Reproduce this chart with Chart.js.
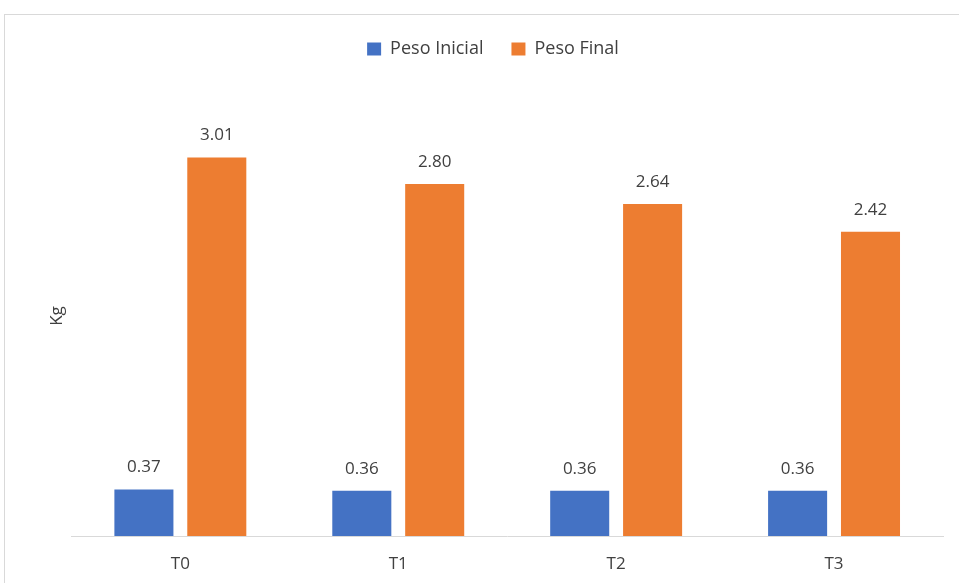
<!DOCTYPE html>
<html>
<head>
<meta charset="utf-8">
<script src="https://cdn.jsdelivr.net/npm/chart.js@4/dist/chart.umd.min.js"></script>
<style>
html,body{margin:0;padding:0;background:#fff;overflow:hidden;}
#frame{position:absolute;left:4px;top:14px;width:1100px;height:800px;border-left:1px solid #d9d9d9;border-top:1px solid #d9d9d9;}
#wrap{position:absolute;left:0;top:0;width:959px;height:583px;}
</style>
</head>
<body>
<div id="frame"></div>
<div id="wrap"><canvas id="c" width="959" height="583"></canvas></div>
<script>
const categories = ["T0", "T1", "T2", "T3"];
const pesoInicial = [0.37, 0.36, 0.36, 0.36];
const pesoFinal = [3.01, 2.80, 2.64, 2.42];
const seriesNames = ["Peso Inicial", "Peso Final"];
const yTitle = "Kg";

const FONT = "'Open Sans', 'Noto Sans', sans-serif";
const TXT = "#404040";

const legendHeight = {
  id: 'legendHeight',
  beforeInit(chart) {
    const orig = chart.legend.fit;
    chart.legend.fit = function () {
      orig.bind(chart.legend)();
      this.height = 84;
    };
  }
};

const valueLabels = {
  id: 'valueLabels',
  afterDatasetsDraw(chart) {
    const ctx = chart.ctx;
    ctx.save();
    ctx.font = "17px " + FONT;
    ctx.fillStyle = TXT;
    ctx.textAlign = 'center';
    ctx.textBaseline = 'middle';
    chart.data.datasets.forEach((ds, i) => {
      const meta = chart.getDatasetMeta(i);
      meta.data.forEach((bar, j) => {
        ctx.fillText(ds.data[j].toFixed(2), bar.x, bar.y - 22);
      });
    });
    ctx.restore();
  }
};

new Chart(document.getElementById('c'), {
  type: 'bar',
  data: {
    labels: categories,
    datasets: [
      { label: seriesNames[0], data: pesoInicial, backgroundColor: '#4472C4', categoryPercentage: 0.669, barPercentage: 0.81 },
      { label: seriesNames[1], data: pesoFinal, backgroundColor: '#ED7D31', categoryPercentage: 0.669, barPercentage: 0.81 }
    ]
  },
  options: {
    responsive: false,
    animation: false,
    layout: { padding: { top: 12, left: 43, right: 16, bottom: 0 } },
    plugins: {
      legend: {
        position: 'top',
        labels: {
          boxWidth: 14, boxHeight: 13, padding: 28,
          color: TXT, font: { family: FONT, size: 18 }
        }
      },
      tooltip: { enabled: false }
    },
    scales: {
      x: {
        grid: { display: false, drawTicks: false },
        border: { display: true, color: '#d9d9d9', width: 1 },
        ticks: { color: TXT, font: { family: FONT, size: 17 }, padding: 18 },
        afterFit(scale) { scale.height = 47; }
      },
      y: {
        min: 0, max: 3.5,
        grid: { display: false, drawTicks: false },
        border: { display: false },
        ticks: { display: false },
        title: { display: true, text: yTitle, color: TXT, font: { family: FONT, size: 17 } }
      }
    }
  },
  plugins: [legendHeight, valueLabels]
});
</script>
</body>
</html>
